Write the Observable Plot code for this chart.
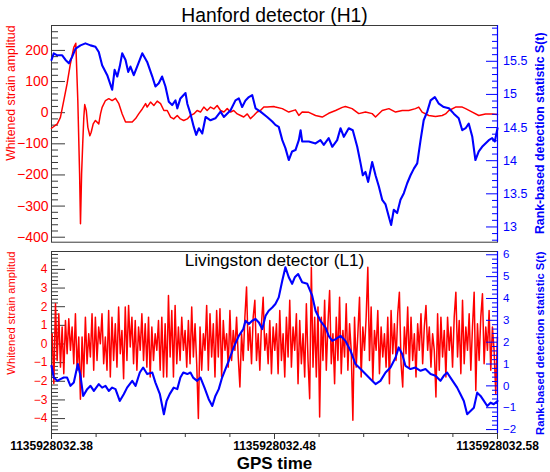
<!DOCTYPE html>
<html><head><meta charset="utf-8">
<script src="https://cdn.jsdelivr.net/npm/d3@7"></script>
<script src="https://cdn.jsdelivr.net/npm/@observablehq/plot@0.6"></script>
<style>
body{margin:0;background:#fff;}
#c{position:relative;width:550px;height:472px;overflow:hidden;}
#c svg{position:absolute;left:0;}
</style></head><body><div id="c"></div>
<script>
const T0 = 1135928032;
const FONT = "'Liberation Sans', Arial, Helvetica, sans-serif";
const titleH1 = "Hanford detector (H1)";
const titleL1 = "Livingston detector (L1)";
const leftTitle = "Whitened strain amplitud";
const rightTitle = "Rank-based detection statistic S(t)";
const xTitle = "GPS time";

const xDomain = [0.38, 0.58];
const xMajor = [0.38, 0.48, 0.58];
const xMinor = [0.40, 0.42, 0.44, 0.46, 0.50, 0.52, 0.54, 0.56];

const h1LeftMajor = [-400, -300, -200, -100, 0, 100, 200];
const h1RightMajor = [13, 13.5, 14, 14.5, 15, 15.5];
const l1LeftMajor = [-4, -3, -2, -1, 0, 1, 2, 3, 4];
const l1RightMajor = [-2, -1, 0, 1, 2, 3, 4, 5, 6];

// time offsets in ms after 1135928032.38
const h1RedT = [0,2.6,4.0,5.5,7.0,8.5,10.0,10.9,11.8,12.6,13.0,13.5,14.0,14.5,14.9,15.6,16.3,17.2,17.8,18.7,19.7,21.2,22.0,22.7,24.2,25.7,27.2,28.7,30.2,31.7,33.2,34.7,36.2,37.7,39.1,40.7,42.2,42.9,44.4,45.9,47.4,48.9,50.4,51.9,53.4,54.8,56.4,57.8,59.3,60.9,62.3,63.8,65.3,66.8,68.3,69.8,71.3,72.8,74.3,75.8,77.3,78.8,80.3,81.7,83.3,84.8,86.2,87.8,89.2,90.7,92.2,93.7,95.2,96.7,99.7,100.4,103.5,106.4,109.4,110.9,112.4,115.4,118.4,121.4,124.3,127.4,130.4,131.8,134.8,137.8,140.8,143.8,145.3,148.3,151.3,154.3,157.3,160.2,163.2,164.7,166.2,169.2,172.2,175.2,176.7,178.2,181.2,184.2,185.7,188.7,191.6,194.6,197.6,200];
const h1RedV = [-50,-36,-15,39,93,158,210,223,39,-196,-357,-196,-100,-14,26,7,-47,-74,-63,-36,-25,-36,-3,17,39,45,39,46,29,-4,-30,-30,-30,-19,-4,12,29,18,34,23,37,29,7,7,-14,-20,-9,-20,-25,-20,-9,-4,7,2,18,7,18,12,23,7,2,13,2,7,-4,-9,-14,-4,-19,-9,2,7,18,18,20,18,13,2,9,-9,2,1,-9,-14,-2,7,17,20,13,-3,2,-3,-14,7,13,2,7,7,13,18,2,-9,-12,-9,-4,7,18,18,13,2,-9,-4,-4,-6];

const h1BlueT = [0,1.0,2.6,4.8,6.3,7.8,9.3,10.8,13.0,15.2,17.5,19.7,21.2,22.7,25.0,27.2,28.3,29.5,30.6,31.7,33.2,34.4,35.4,36.9,38.4,40.7,42.9,45.2,46.6,48.1,49.6,51.1,52.6,54.1,55.6,56.4,57.8,60.1,60.9,62.3,63.8,64.9,66.1,67.6,69.1,71.3,73.5,75.8,77.3,80.3,82.5,84.0,85.5,87.0,88.5,90.0,91.5,93.7,96.7,99.0,100.4,101.9,103.5,104.9,106.4,107.9,109.4,110.9,111.7,112.4,115.4,118.4,120.6,122.1,124.3,125.9,128.1,129.6,131.1,133.3,135.1,137.1,138.6,139.6,140.8,142.0,143.8,145.3,146.8,148.3,149.8,151.3,152.3,153.5,155.0,156.5,158.0,159.5,161.0,162.5,164.0,165.5,166.9,168.5,170.0,171.9,173.7,175.9,178.2,180.4,182.6,184.2,185.7,187.1,188.7,190.1,191.6,193.1,194.6,196.1,197.6,198.8,200];
const h1BlueV = [15.52,15.62,15.59,15.59,15.52,15.47,15.57,15.69,15.74,15.77,15.74,15.72,15.64,15.44,15.29,15.07,15.37,15.27,15.42,15.62,15.52,15.34,15.42,15.29,15.42,15.62,15.49,15.27,15.12,15.17,15.27,15.12,14.89,14.84,14.91,14.79,14.94,15.02,14.86,14.71,14.51,14.39,14.49,14.41,14.66,14.61,14.64,14.74,14.66,14.76,14.91,14.94,14.81,14.91,14.96,14.99,14.79,14.74,14.66,14.59,14.54,14.51,14.31,14.19,14.01,14.14,14.16,14.31,14.46,14.29,14.29,14.26,14.31,14.24,14.34,14.21,14.31,14.49,14.36,14.49,14.46,14.21,13.96,13.78,13.83,13.68,13.98,13.78,13.61,13.41,13.34,13.15,13.03,13.26,13.21,13.41,13.51,13.66,13.78,13.88,13.96,14.31,14.61,14.74,14.91,14.96,14.86,14.81,14.79,14.71,14.64,14.46,14.49,14.56,14.36,14.01,14.14,14.21,14.26,14.31,14.34,14.29,14.49];

// L1 whitened strain, sampled every 0.745 ms starting at 0.3 ms
const l1RedStartMs = 0.3;
const l1RedStepMs = 0.745;
const l1RedV = [
0.55,-2.12,2.16,-0.88,1.62,-1.24,0.91,-1.59,1.26,-0.52,1.35,-0.34,0.91,-1.06,1.62,-1.41,0.37,-2.96,0.37,-1.77,1.44,-1.06,0.55,-0.70,1.62,-1.41,1.44,-0.88,0.91,0.01,1.62,-1.06,0.37,-1.41,1.80,-1.77,1.44,-0.88,1.09,-1.24,1.98,-0.52,0.73,-1.86,1.98,-0.88,2.07,-0.16,1.44,-1.06,1.26,-1.41,0.91,-0.34,1.62,-0.88,1.09,-1.24,1.44,-1.77,0.91,-0.88,0.55,-0.34,1.26,-1.41,1.44,-1.77,
1.09,-1.77,2.60,-0.70,1.80,-1.77,2.07,-1.06,0.91,-0.88,1.44,-0.34,0.73,-1.24,1.26,-1.06,1.98,-0.70,1.09,-1.06,-4.00,0.91,-1.41,0.55,-0.34,2.07,-1.41,1.62,-0.70,1.09,-1.77,1.80,-0.70,1.89,-1.77,1.26,-0.34,0.55,-1.24,1.80,-0.88,0.73,-0.34,1.44,-0.70,-2.31,0.55,-0.88,1.44,3.05,-0.34,0.91,-1.06,1.44,2.34,-0.88,0.55,-1.41,1.09,2.51,-0.34,0.55,-1.06,1.26,-1.59,0.91,
-0.34,1.09,-1.59,1.80,-0.88,0.55,-1.77,1.44,-0.70,2.34,-1.24,0.91,-0.34,1.62,-2.13,1.26,-1.06,0.55,-1.77,2.16,-0.88,-2.93,4.12,-1.24,1.44,-1.77,1.98,-3.91,1.44,-0.88,2.34,-1.41,1.09,2.87,-1.06,0.55,-2.13,1.44,-0.88,2.51,-1.59,0.73,-0.70,2.16,-1.41,1.09,-0.34,-4.09,1.44,-1.24,0.55,2.51,-1.77,0.91,-0.34,1.44,4.12,-0.88,1.98,-1.95,0.73,-0.34,1.80,-1.59,0.91,-0.70,
0.55,-1.24,1.44,-2.13,1.80,-0.52,1.09,-0.88,1.62,2.78,-1.06,-2.31,0.91,-0.52,1.98,-1.24,1.44,-0.88,0.55,-1.77,1.09,-0.34,1.62,-1.06,0.91,2.07,-0.34,0.91,-1.24,0.55,-0.34,-2.84,1.62,-1.41,1.44,-0.70,0.73,-1.77,1.44,-0.34,0.91,-1.24,1.44,2.78,-0.70,1.26,-1.59,2.34,-1.06,0.91,-0.34,1.62,-1.41,0.91,2.78,-2.49,1.09,-0.88,1.44,2.69,-1.06,0.91,-0.34,1.80,-1.41,0.91,-0.34,-2.66,0.37
];

const l1BlueT = [0,1.0,2.6,4.0,5.5,7.0,8.5,10.0,11.8,13.0,14.2,16.0,17.5,19.0,21.2,22.7,24.2,25.7,27.2,28.7,30.6,32.4,33.9,36.2,37.7,39.6,41.1,42.9,45.2,46.6,48.6,50.4,51.6,53.0,54.8,56.4,57.8,59.1,60.9,62.3,63.5,65.3,66.8,68.6,70.5,72.1,73.5,75.0,76.5,78.0,79.5,81.7,84.0,86.0,87.0,88.5,90.0,91.5,93.0,94.5,96.0,97.4,99.0,100.4,101.9,103.5,104.9,106.4,107.9,109.1,110.6,112.4,114.7,116.9,118.4,120.6,122.9,124.3,125.9,127.4,129.6,131.8,134.1,136.3,138.6,140.8,143.0,145.3,147.5,149.8,152.0,154.3,155.7,157.3,158.7,161.0,163.2,165.5,167.7,170.0,172.2,174.4,175.9,177.4,178.9,180.4,181.9,183.4,184.9,186.4,187.9,189.4,190.9,192.4,193.9,195.4,196.9,198.3,200];
const l1BlueV = [0.92,0.38,0.23,0.31,0.38,0.38,0,0.15,1.0,0.46,-0.46,-0.15,0,-0.23,0.08,-0.08,0,-0.23,-0.08,-0.15,-0.69,-0.38,-0.08,0.23,0,0.61,0.84,0.54,0.61,0.15,-0.38,-1.30,-0.69,-0.38,-0.08,-0.15,0.38,0.61,0.54,0.61,0.38,0.23,0.38,-0.08,-0.61,-0.92,-0.46,-0.15,0.38,0.77,1.15,1.76,2.29,2.60,2.98,2.83,2.98,3.06,2.90,2.60,3.21,3.44,3.59,3.75,4.05,4.82,5.43,4.97,4.67,4.97,5.12,4.74,4.67,4.13,3.44,2.98,2.67,2.29,2.06,2.14,2.29,2.06,1.61,1.0,0.77,0.54,0.31,0.08,0.23,0.61,0.84,1.30,1.76,1.45,0.92,0.77,0.84,0.69,0.77,0.54,0.46,0.23,0.46,0.61,0.38,0.15,-0.08,-0.38,-0.69,-1.30,-1.15,-1.0,-0.31,-0.46,-0.69,-0.92,-0.77,-0.84,-0.69];

const toX = ms => 0.38 + ms / 1000;
const h1Red = h1RedT.map((t, i) => ({x: toX(t), v: h1RedV[i]}));
const h1Blue = h1BlueT.map((t, i) => ({x: toX(t), v: h1BlueV[i]}));
const l1Red = l1RedV.map((v, i) => ({x: toX(l1RedStartMs + i * l1RedStepMs), v}));
const l1Blue = l1BlueT.map((t, i) => ({x: toX(t), v: l1BlueV[i]}));

const minor = (lo, hi, step, majors) =>
  d3.range(Math.round(lo / step), Math.round(hi / step) + 1).map(k => +(k * step).toFixed(4))
    .filter(v => !majors.some(m => Math.abs(m - v) < 1e-6));

const W = 550, ML = 51, MR = 53;
const style = {background: "transparent", fontFamily: FONT, overflow: "visible"};
const frameStroke = "#3a3a3a";
const fmtY = d => (d < 0 ? "\u2212" : "") + String(Math.abs(d));

function panel({top, height, mt, mb, yDomain, major, minorTicks, data, color, side, labelSize, titleSize, extra}) {
  const left = side === "left";
  const marks = [];
  if (left) {
    marks.push(Plot.frame({stroke: frameStroke}));
    marks.push(Plot.axisY(minorTicks, {anchor: "left", tickSize: 7, dx: 7, stroke: frameStroke, fill: "none", label: null}));
    marks.push(Plot.axisY(major, {anchor: "left", tickSize: 14, dx: 14, stroke: frameStroke, fill: "none", label: null}));
    marks.push(Plot.axisY(major, {anchor: "left", tickSize: 0, tickPadding: labelSize > 13 ? 3 : 4, fill: color, fontSize: labelSize, tickFormat: fmtY, label: null}));
    marks.push(Plot.line(data, {x: "x", y: "v", stroke: color, strokeWidth: 1.5}));
    marks.push(Plot.text([leftTitle], {frameAnchor: "top-left", rotate: -90, textAnchor: "end", lineAnchor: "middle", dx: -40, fill: color, fontSize: titleSize}));
  } else {
    marks.push(Plot.ruleX([xDomain[1]], {stroke: color, strokeWidth: 1.2}));
    marks.push(Plot.axisY(minorTicks, {anchor: "right", tickSize: 6, dx: -6, stroke: color, fill: "none", label: null}));
    marks.push(Plot.axisY(major, {anchor: "right", tickSize: 12, dx: -12, stroke: color, fill: "none", label: null}));
    marks.push(Plot.axisY(major, {anchor: "right", tickSize: 0, tickPadding: 5.5, fill: color, fontSize: labelSize, tickFormat: fmtY, label: null}));
    marks.push(Plot.line(data, {x: "x", y: "v", stroke: color, strokeWidth: 2.1}));
    marks.push(Plot.text([rightTitle], {frameAnchor: "top-right", rotate: -90, textAnchor: "end", lineAnchor: "middle", dx: 43, dy: extra.rdy, fill: color, fontWeight: "bold", fontSize: titleSize}));
  }
  if (extra.marks) marks.push(...extra.marks);
  const svg = Plot.plot({
    width: W, height, marginTop: mt, marginBottom: mb, marginLeft: ML, marginRight: MR,
    x: {domain: xDomain, axis: null},
    y: {domain: yDomain, axis: null},
    style,
    marks
  });
  svg.style.top = top + "px";
  return svg;
}

const c = document.getElementById("c");
const fmtX = d => T0 + "." + String(Math.round(d * 100));

// Hanford panel
c.appendChild(panel({top: 0, height: 245, mt: 25, mb: 3.3, yDomain: [-416, 280],
  major: h1LeftMajor, minorTicks: minor(-400, 280, 20, h1LeftMajor), data: h1Red, color: "#ff0000", side: "left",
  labelSize: 14, titleSize: 12.3,
  extra: {marks: [Plot.text([titleH1], {frameAnchor: "top", lineAnchor: "bottom", dy: -4, fontSize: 19.3, fill: "black"})]}}));
c.appendChild(panel({top: 0, height: 245, mt: 25, mb: 3.3, yDomain: [12.77, 16.04],
  major: h1RightMajor, minorTicks: minor(12.8, 16.0, 0.1, h1RightMajor), data: h1Blue, color: "#0000ff", side: "right",
  labelSize: 12.5, titleSize: 12.3, extra: {rdy: 7}}));

// Livingston panel
c.appendChild(panel({top: 245, height: 227, mt: 6, mb: 39, yDomain: [-4.8, 4.96],
  major: l1LeftMajor, minorTicks: minor(-4.8, 4.8, 0.2, l1LeftMajor), data: l1Red, color: "#ff0000", side: "left",
  labelSize: 12, titleSize: 11.2,
  extra: {marks: [
    Plot.text([titleL1], {frameAnchor: "top", lineAnchor: "bottom", dy: 14.5, fontSize: 17.2, fill: "black"}),
    Plot.axisX(xMinor, {anchor: "bottom", tickSize: 4, stroke: frameStroke, fill: "none", label: null}),
    Plot.axisX(xMajor, {anchor: "bottom", tickSize: 6, stroke: frameStroke, tickPadding: 2, fontWeight: "bold", fontSize: 12, fill: "black", tickFormat: fmtX, label: null}),
    Plot.text([xTitle], {frameAnchor: "bottom", lineAnchor: "bottom", dy: 35.5, fontWeight: "bold", fontSize: 17, fill: "black"})
  ]}}));
c.appendChild(panel({top: 245, height: 227, mt: 6, mb: 39, yDomain: [-2.18, 6.15],
  major: l1RightMajor, minorTicks: minor(-2.0, 6.0, 0.2, l1RightMajor), data: l1Blue, color: "#0000ff", side: "right",
  labelSize: 11.5, titleSize: 11.2, extra: {rdy: 0}}));
</script></body></html>
